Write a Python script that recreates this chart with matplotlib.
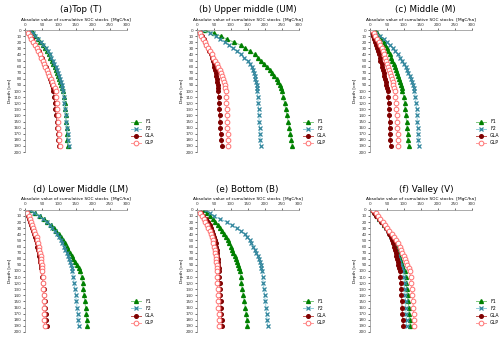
import matplotlib
matplotlib.use("Agg")
import matplotlib.pyplot as plt

depth = [0, 5, 10, 15, 20, 25, 30, 35, 40, 45, 50, 55, 60, 65, 70, 75, 80, 85, 90, 95, 100,
         110, 120, 130, 140, 150, 160, 170, 180, 190]

titles = ["(a)Top (T)", "(b) Upper middle (UM)", "(c) Middle (M)",
          "(d) Lower Middle (LM)", "(e) Bottom (B)", "(f) Valley (V)"]
series_names = ["F1", "F2", "GLA", "GLP"]

# cumulative SOC stocks [MgC/ha] per panel
top_f1 = [17, 24, 31, 38, 45, 52, 58, 64, 70, 75, 80, 84, 88, 92, 95, 98, 101, 104, 107, 110, 112,
          115, 117, 119, 120, 122, 123, 124, 125, 127]
top_f2 = [15, 23, 31, 39, 47, 54, 61, 67, 73, 78, 83, 87, 91, 94, 97, 100, 103, 106, 108, 110, 112,
          114, 116, 118, 120, 122, 124, 126, 127, 129]
top_gla = [5, 10, 15, 20, 25, 30, 35, 40, 45, 49, 53, 57, 61, 65, 68, 71, 74, 77, 79, 82, 84,
           86, 88, 90, 92, 94, 95, 97, 98, 100]
top_glp = [5, 9, 14, 19, 24, 29, 34, 39, 44, 48, 52, 56, 60, 64, 68, 72, 76, 80, 84, 88, 91,
           93, 95, 96, 97, 98, 99, 100, 101, 102]

um_f1 = [23, 50, 70, 88, 110, 130, 143, 157, 170, 180, 188, 198, 207, 216, 222, 229, 236, 240, 244, 247, 251,
         255, 259, 262, 266, 270, 273, 276, 279, 282]
um_f2 = [12, 38, 55, 68, 82, 95, 106, 118, 129, 140, 150, 157, 162, 165, 168, 170, 172, 174, 176, 177, 178,
         180, 181, 182, 183, 184, 185, 186, 187, 188]
um_gla = [5, 10, 15, 20, 24, 28, 32, 36, 40, 43, 46, 49, 51, 53, 55, 57, 58, 60, 61, 62, 63,
          64, 65, 66, 67, 68, 69, 70, 72, 75]
um_glp = [3, 8, 13, 18, 23, 28, 33, 38, 43, 48, 53, 58, 63, 67, 71, 74, 77, 80, 82, 84, 85,
          86, 87, 88, 89, 89, 90, 91, 92, 93]

m_f1 = [15, 22, 28, 34, 40, 45, 50, 54, 58, 62, 66, 70, 73, 76, 79, 82, 85, 88, 91, 94, 96,
        100, 102, 104, 106, 108, 110, 111, 112, 114]
m_f2 = [8, 19, 30, 40, 50, 59, 67, 75, 82, 89, 95, 100, 105, 109, 113, 117, 121, 124, 127, 129, 131,
        134, 136, 138, 139, 140, 141, 142, 143, 144]
m_gla = [3, 6, 9, 12, 15, 18, 21, 24, 26, 29, 31, 34, 36, 38, 40, 42, 44, 46, 48, 50, 52,
         54, 55, 56, 57, 58, 58, 59, 60, 61]
m_glp = [5, 11, 16, 21, 26, 30, 34, 38, 42, 45, 48, 51, 54, 57, 60, 63, 65, 67, 69, 71, 73,
         75, 77, 78, 79, 80, 81, 82, 82, 83]

lm_f1 = [15, 30, 44, 56, 66, 76, 85, 93, 100, 107, 113, 118, 123, 128, 133, 138, 143, 149, 155, 160, 164,
         167, 170, 172, 175, 177, 179, 181, 182, 184]
lm_f2 = [12, 28, 42, 54, 64, 73, 81, 88, 95, 100, 105, 110, 115, 119, 123, 127, 130, 133, 136, 138, 140,
         143, 145, 148, 150, 152, 154, 156, 157, 159]
lm_gla = [3, 7, 10, 13, 16, 19, 22, 25, 27, 30, 32, 34, 36, 38, 40, 42, 44, 45, 47, 48, 49,
          51, 53, 55, 57, 58, 60, 62, 63, 64]
lm_glp = [2, 7, 11, 15, 19, 22, 25, 28, 31, 34, 36, 38, 40, 42, 44, 46, 47, 48, 49, 50, 51,
          52, 53, 54, 55, 55, 56, 57, 57, 58]

b_f1 = [20, 29, 37, 46, 54, 61, 68, 75, 81, 86, 91, 96, 100, 104, 107, 111, 115, 118, 122, 125, 127,
        129, 131, 134, 137, 140, 143, 145, 147, 149]
b_f2 = [26, 37, 49, 68, 88, 103, 117, 130, 141, 149, 156, 161, 166, 171, 175, 179, 182, 185, 188, 190, 192,
        194, 196, 198, 200, 202, 204, 206, 207, 209]
b_gla = [5, 12, 19, 26, 32, 37, 41, 45, 48, 51, 53, 55, 57, 58, 59, 60, 61, 62, 63, 64, 65,
         66, 67, 68, 69, 70, 71, 72, 73, 75]
b_glp = [3, 9, 15, 20, 25, 29, 33, 37, 40, 43, 46, 48, 50, 52, 54, 55, 56, 57, 58, 58, 58,
         59, 60, 61, 62, 62, 63, 64, 64, 65]

v_f1 = [7, 14, 21, 28, 35, 42, 49, 55, 60, 64, 68, 72, 76, 80, 84, 87, 90, 93, 96, 99, 102,
        105, 107, 109, 111, 113, 115, 116, 118, 119]
v_f2 = [7, 14, 21, 28, 35, 42, 48, 54, 59, 63, 67, 71, 75, 78, 81, 84, 87, 90, 93, 96, 99,
        101, 102, 103, 104, 105, 106, 107, 108, 109]
v_gla = [5, 12, 19, 26, 33, 40, 47, 52, 57, 61, 64, 67, 70, 73, 76, 78, 80, 82, 84, 86, 88,
         90, 91, 92, 93, 94, 95, 96, 97, 99]
v_glp = [9, 17, 24, 31, 37, 43, 50, 57, 64, 71, 77, 83, 88, 92, 96, 100, 104, 107, 110, 114, 117,
         120, 122, 124, 125, 127, 128, 129, 130, 131]

panels = [
    (top_f1, top_f2, top_gla, top_glp),
    (um_f1, um_f2, um_gla, um_glp),
    (m_f1, m_f2, m_gla, m_glp),
    (lm_f1, lm_f2, lm_gla, lm_glp),
    (b_f1, b_f2, b_gla, b_glp),
    (v_f1, v_f2, v_gla, v_glp),
]

styles = [
    dict(marker="^", color="#7fc97f", mfc="#008000", mec="#008000", ms=2.8),
    dict(marker="x", color="#92cddc", mfc="#31859c", mec="#31859c", ms=2.6, mew=0.9),
    dict(marker="o", color="#c0504d", mfc="#7f0000", mec="#7f0000", ms=2.6),
    dict(marker="o", color="#ff9b9b", mfc="white", mec="#ff7070", ms=3.4, mew=0.7),
]

fig = plt.figure(figsize=(5.0, 3.38), dpi=100)
lefts = [0.050, 0.394, 0.740]
bottoms = [0.550, 0.018]
w, h = 0.203, 0.361

for i, data in enumerate(panels):
    ax = fig.add_axes([lefts[i % 3], bottoms[i // 3], w, h])
    for vals, st, name in zip(data, styles, series_names):
        ax.plot(vals, depth, lw=0.7, label=name, **st)
    ax.set_xlim(0, 300)
    ax.set_ylim(200, 0)
    ax.set_xticks([0, 50, 100, 150, 200, 250, 300])
    ax.set_yticks(range(0, 201, 10))
    ax.xaxis.tick_top()
    ax.xaxis.set_label_position("top")
    ax.tick_params(labelsize=3.0, length=1.5, width=0.5, pad=1, colors="#333333")
    for s in ["right", "bottom"]:
        ax.spines[s].set_visible(False)
    for s in ["left", "top"]:
        ax.spines[s].set_linewidth(0.5)
        ax.spines[s].set_color("#888888")
    ax.set_xlabel("Absolute value of cumulative SOC stocks  [MgC/ha]", fontsize=3.1, labelpad=1.5)
    ax.set_ylabel("Depth [cm]", fontsize=3.1, labelpad=1.5)
    ax.set_title(titles[i], fontsize=6.3, pad=13, x=0.55 if i % 3 != 1 else 0.5)
    ax.legend(loc="lower left", bbox_to_anchor=(1.03, 0.04), fontsize=3.3, frameon=False,
              handlelength=2.2, handletextpad=0.8, labelspacing=0.45, borderaxespad=0)

fig.savefig("out.png", dpi=100)
